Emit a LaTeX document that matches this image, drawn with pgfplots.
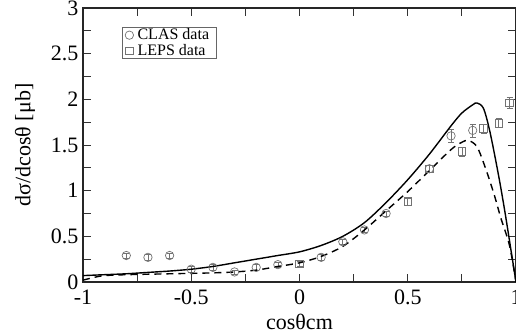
\documentclass[border=0pt]{standalone}
\usepackage{pgfplots}
\pgfplotsset{compat=1.18}
\usepackage{pgfplotstable}
\usepackage{fontspec}
\setmainfont{Liberation Serif}
\usetikzlibrary{calc}

\pgfplotstableread{
x y e
-0.8 0.29 0.03
-0.7 0.27 0.03
-0.6 0.29 0.03
-0.5 0.14 0.03
-0.4 0.16 0.03
-0.3 0.11 0.02
-0.2 0.16 0.03
-0.1 0.19 0.03
0.1 0.27 0.03
0.2 0.44 0.03
0.3 0.57 0.03
0.4 0.75 0.03
0.6 1.24 0.04
0.7 1.60 0.07
0.8 1.66 0.07
}\clas

\pgfplotstableread{
x y e
0.0 0.20 0.03
0.5 0.88 0.04
0.6 1.24 0.04
0.75 1.43 0.05
0.85 1.68 0.05
0.92 1.74 0.05
0.97 1.96 0.06
}\leps

\pgfplotstableread{
x y
-1.0 0.07
-0.9 0.08
-0.8 0.09
-0.7 0.105
-0.6 0.12
-0.5 0.14
-0.4 0.17
-0.3 0.21
-0.2 0.25
-0.1 0.29
0.0 0.33
0.1 0.40
0.2 0.50
0.3 0.65
0.4 0.87
0.5 1.12
0.6 1.40
0.7 1.71
0.75 1.85
0.8 1.94
0.82 1.96
0.85 1.90
0.88 1.64
0.92 1.16
0.95 0.75
0.98 0.30
1.0 0.0
}\solid

\pgfplotstableread{
x y
-1.0 0.02
-0.95 0.05
-0.9 0.07
-0.8 0.08
-0.6 0.09
-0.4 0.10
-0.3 0.11
-0.2 0.13
-0.1 0.17
0.0 0.21
0.1 0.28
0.2 0.39
0.3 0.57
0.4 0.78
0.5 0.99
0.6 1.22
0.7 1.45
0.75 1.53
0.78 1.55
0.82 1.48
0.86 1.24
0.9 0.95
0.93 0.70
0.97 0.40
1.0 0.0
}\dashed

\begin{document}
\begin{tikzpicture}
\begin{axis}[
  name=ax,
  scale only axis,
  width=433pt, height=274pt,
  xmin=-1, xmax=1, ymin=0, ymax=3,
  xtick={-1,-0.5,0,0.5,1},
  ytick={0,0.5,1,1.5,2,2.5,3},
  minor x tick num=1, minor y tick num=1,
  tick align=inside,
  major tick length=8pt, minor tick length=8pt,
  every tick/.style={black!80, line width=0.8pt},
  axis line style={line width=1.2pt, black!85},
  /pgf/number format/assume math mode=true,
  tick label style={font=\fontsize{22}{24}\selectfont},
  xticklabel style={yshift=-4pt},
  yticklabel style={xshift=-1pt},
  label style={font=\fontsize{22}{24}\selectfont},
  xlabel={cosθcm},
  ylabel={dσ/dcosθ [μb]},
  xlabel style={at={(axis description cs:0.5,0)}, anchor=center, yshift=-40pt},
  ylabel style={at={(axis description cs:-0.134,0.5)}, anchor=center},
  legend style={at={(axis description cs:0.09,0.93)}, anchor=north west,
    font=\fontsize{16}{17}\selectfont, draw=black!60, inner xsep=3pt, inner ysep=1pt,
    row sep=2pt, nodes={inner xsep=4pt, inner ysep=0.5pt}},
  legend cell align=left,
  clip=false,
]
\addplot[only marks, mark=o, mark size=4.2pt, black!55, mark options={line width=0.7pt},
  error bars/.cd, y dir=both, y explicit,
  error bar style={black!55, line width=0.7pt}, error mark options={rotate=90, mark size=3pt, black!55}]
  table[x=x, y=y, y error=e]{\clas};
\addlegendentry{CLAS data}
\addplot[only marks, mark=square, mark size=3.8pt, black!55, mark options={line width=0.7pt},
  error bars/.cd, y dir=both, y explicit,
  error bar style={black!55, line width=0.7pt}, error mark options={rotate=90, mark size=3pt, black!55}]
  table[x=x, y=y, y error=e]{\leps};
\addlegendentry{LEPS data}
\addplot[black, line width=1.4pt, smooth, tension=0.5, forget plot] table[x=x,y=y]{\solid};
\addplot[black, line width=1.4pt, dash pattern=on 7pt off 5pt, smooth, tension=0.5, forget plot] table[x=x,y=y]{\dashed};
\end{axis}
\pgfresetboundingbox
\useasboundingbox ($(ax.south west)+(-83pt,-54pt)$) rectangle ($(ax.north east)+(0pt,8pt)$);
\end{tikzpicture}
\end{document}
